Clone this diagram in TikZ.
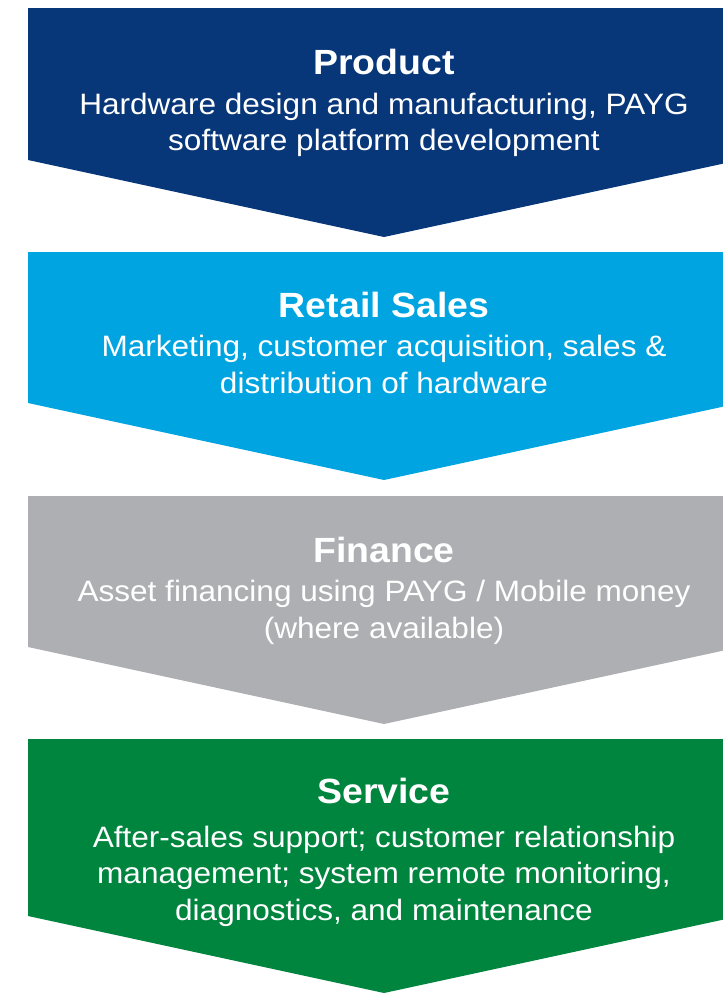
\documentclass[tikz,border=0pt]{standalone}
\usepackage{fontspec}
\setmainfont[FakeStretch=1.07]{Liberation Sans}
\usepackage{xcolor}

\definecolor{productblue}{RGB}{7,54,121}
\definecolor{retailblue}{RGB}{0,164,224}
\definecolor{financegrey}{RGB}{174,175,179}
\definecolor{servicegreen}{RGB}{0,133,63}

\tikzset{
    stagetitle/.style={font=\fontsize{35}{40}\selectfont\bfseries, text=white, anchor=base, inner sep=0pt},
    stagetext/.style={font=\fontsize{29.5}{36.5}\selectfont, text=white, align=center, anchor=base, inner sep=0pt}
}

\begin{document}
\begin{tikzpicture}[x=1pt, y=-1pt]
        \useasboundingbox (0, 0) rectangle (723, 994);
        \clip (0, 0) rectangle (723, 994);
        
        \fill[productblue] (28, 8) -- (740, 8) -- (740, 160) -- (384, 237) -- (28, 160) -- cycle;
        \fill[retailblue] (28, 252) -- (740, 252) -- (740, 403) -- (384, 480) -- (28, 403) -- cycle;
        \fill[financegrey] (28, 496) -- (740, 496) -- (740, 647) -- (384, 724) -- (28, 647) -- cycle;
        \fill[servicegreen] (28, 739) -- (740, 739) -- (740, 916) -- (384, 993) -- (28, 916) -- cycle;
        
        % text nodes sit on the baseline of their last line
        \node[stagetitle] (product) at (384, 74) {Product};
        \node[stagetext] (productdesc) at (384, 150.5) {Hardware design and manufacturing, PAYG\\software platform development};
        
        \node[stagetitle] (retail) at (384, 317) {Retail Sales};
        \node[stagetext] (retaildesc) at (384, 393) {Marketing, customer acquisition, sales \&\\distribution of hardware};
        
        \node[stagetitle] (finance) at (384, 562) {Finance};
        \node[stagetext] (financedesc) at (384, 638) {Asset financing using PAYG / Mobile money\\(where available)};
        
        \node[stagetitle] (service) at (384, 803) {Service};
        \node[stagetext] (servicedesc) at (384, 920) {After-sales support; customer relationship\\management; system remote monitoring,\\diagnostics, and maintenance};
    \end{tikzpicture}
\end{document}
